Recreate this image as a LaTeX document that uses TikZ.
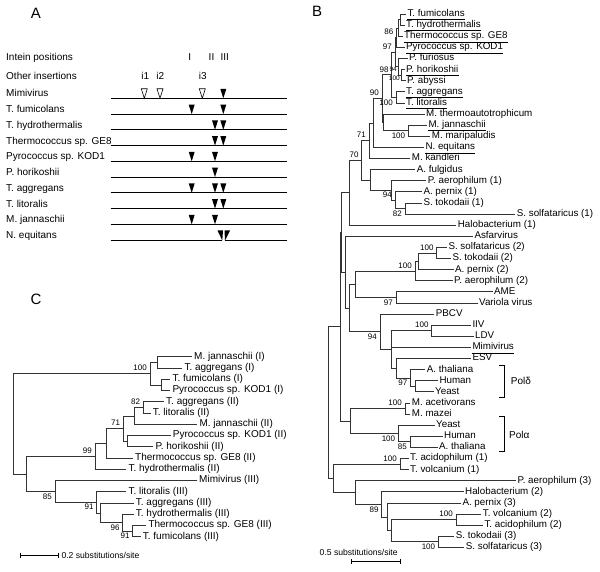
\documentclass[tikz,border=0pt]{standalone}
\usepackage{fontspec}
\setmainfont{Liberation Sans}
\usetikzlibrary{positioning}

\begin{document}
\begin{tikzpicture}[x=1pt, y=-1pt,
    lbl/.style={anchor=west, inner sep=1pt, font=\fontsize{10}{12}\selectfont,
                text height=7pt, text depth=2pt},
    leafB/.style={lbl, font=\fontsize{9.8}{12}\selectfont, inner sep=1.5pt},
    leafC/.style={lbl, inner sep=2pt},
    br/.style={draw=black!80, line width=0.6pt},
    row/.style={line width=1pt},
    ulstyle/.style={line width=0.75pt},
    bs/.style={inner sep=0pt, font=\fontsize{8}{9}\selectfont},
    bsa/.style={bs, anchor=south east, xshift=-3pt, yshift=2.5pt},
    bsb/.style={bs, anchor=north east, xshift=-3pt, yshift=-2pt},
    panel/.style={font=\fontsize{15}{18}\selectfont},
    scale text/.style={anchor=west, inner sep=0pt, font=\fontsize{8.6}{10}\selectfont}
  ]
  \useasboundingbox (0,0) rectangle (600,572);

  % ---------------- panel A
  \node[panel] (labA) at (36,13) {A};
  \node[lbl] (intein) at (5,58) {Intein positions};
  \node[lbl] (other) at (5,77) {Other insertions};
  \foreach \t/\xx in {I/189.7, II/211.5, III/224.7}
    \node[lbl, anchor=center] (pos\t) at (\xx,58) {\t};
  \foreach \t/\xx in {i1/145.2, i2/160.3, i3/202.7}
    \node[lbl, anchor=center] (ins\t) at (\xx,77) {\t};

  \foreach \name [count=\k from 0] in {Mimivirus, T. fumicolans, T. hydrothermalis,
      Thermococcus sp. GE8, Pyrococcus sp. KOD1, P. horikoshii, T. aggregans,
      T. litoralis, M. jannaschii, N. equitans} {
    \pgfmathsetmacro\yy{98.3+15.75*\k}
    \node[lbl] (sp\k) at (5,\yy-4) {\name};
    \coordinate (ls\k) at (110.7,\yy);
    \coordinate (le\k) at (287.3,\yy);
  }
  \foreach \k in {0,...,8}
    \draw[row] (ls\k) -- (le\k);
  % split intein of N. equitans
  \draw[row] (ls9) -- (222.3,240.05);
  \draw[row] (225,240.05) -- (le9);

  \foreach \k/\marks in {0/{223.3}, 1/{191.7,223.3}, 2/{215,223.3}, 3/{215,223.3},
      4/{191.7,215}, 5/{215}, 6/{191.7,215,223.3}, 7/{215,223.3}, 8/{191.7,215}}
    \foreach \m in \marks {
      \pgfmathsetmacro\yy{98.3+15.75*\k}
      \fill (\m,\yy) -- ++(-3,-9.5) -- ++(6,0) -- cycle;
    }
  \foreach \m in {144.3,160,202.3}
    \filldraw[fill=white, line width=0.6pt] (\m,98.3) -- ++(-3,-9.5) -- ++(6,0) -- cycle;
  \fill (217.5,230.5) -- (223,230.5) -- (222.3,240.5) -- cycle;
  \fill (224.5,230.5) -- (230,230.5) -- (225,240.5) -- cycle;

  % ---------------- panel C
  \node[panel] (labC) at (36,299) {C};
  \foreach \txt/\xs [count=\i] in {{M. jannaschii (I)}/194, {T. aggregans (I)}/184.3,
      {T. fumicolans (I)}/172.3, {Pyrococcus sp. KOD1 (I)}/172.3,
      {T. aggregans (II)}/166, {T. litoralis (II)}/152.7, {M. jannaschii (II)}/199.3,
      {Pyrococcus sp. KOD1 (II)}/172.7, {P. horikoshii (II)}/155.3,
      {Thermococcus sp. GE8 (II)}/135, {T. hydrothermalis (II)}/128.3,
      {Mimivirus (III)}/199, {T. litoralis (III)}/128.3, {T. aggregans (III)}/135.7,
      {T. hydrothermalis (III)}/135.7, {Thermococcus sp. GE8 (III)}/148.3,
      {T. fumicolans (III)}/142.7}
    \node[leafC] (c\i) at (\xs-2, {356.7+11.25*(\i-1)}) {\txt};

  \coordinate (k1) at (157.3,362.3);
  \coordinate (k2) at (161,384.8);
  \coordinate (kI) at (150,373.6);
  \coordinate (k82) at (143.3,407.3);
  \coordinate (k3) at (134,415.8);
  \coordinate (k4) at (127.7,441.1);
  \coordinate (k71) at (123.3,428.4);
  \coordinate (k5) at (106,443.2);
  \coordinate (k99) at (95,456.2);
  \coordinate (k91b) at (132.7,531.1);
  \coordinate (k96) at (122.7,522.6);
  \coordinate (k6) at (100.7,512.8);
  \coordinate (k91) at (96.7,502.2);
  \coordinate (k85) at (55,491.3);
  \coordinate (k7) at (26,473.8);
  \coordinate (kR) at (13.3,423.7);

  \foreach \p/\c in {k1/c1.west, k1/c2.west, k2/c3.west, k2/c4.west, kI/k1, kI/k2,
      k82/c5.west, k82/c6.west, k3/k82, k3/c7.west, k4/c8.west, k4/c9.west,
      k71/k3, k71/k4, k5/k71, k5/c10.west, k99/k5, k99/c11.west,
      k91b/c16.west, k91b/c17.west, k96/c15.west, k96/k91b, k6/c14.west, k6/k96,
      k91/c13.west, k91/k6, k85/c12.west, k85/k91, k7/k99, k7/k85, kR/kI, kR/k7}
    \draw[br] (\p) |- (\c);

  \foreach \n/\t in {kI/100, k82/82, k71/71, k99/99}
    \node[bsa] at (\n) {\t};
  \foreach \n/\t in {k85/85, k91/91, k96/96, k91b/91}
    \node[bsb] at (\n) {\t};

  \coordinate (scC1) at (20,555);
  \coordinate (scC2) at (58.3,555);
  \draw[line width=0.6pt] (scC1) -- (scC2);
  \draw[line width=0.6pt] ([yshift=2.5pt]scC1) -- ([yshift=-2.5pt]scC1);
  \draw[line width=0.6pt] ([yshift=2.5pt]scC2) -- ([yshift=-2.5pt]scC2);
  \node[scale text, right=3pt of scC2] (scCtext) {0.2 substitutions/site};

  % ---------------- panel B
  \node[panel] (labB) at (317,11) {B};
  \foreach \txt/\xs [count=\i] in {{T. fumicolans}/407.3,
      {T. hydrothermalis}/406, {Thermococcus sp. GE8}/404,
      {Pyrococcus sp. KOD1}/406, {P. furiosus}/409,
      {P. horikoshii}/406, {P. abyssi}/407, {T. aggregans}/406,
      {T. litoralis}/406, {M. thermoautotrophicum}/426,
      {M. jannaschii}/428.3, {M. maripaludis}/431.7,
      {N. equitans}/425.3, {M. kandleri}/411.7, {A. fulgidus}/416.7,
      {P. aerophilum (1)}/427.7, {A. pernix (1)}/423.3, {S. tokodaii (1)}/423.3,
      {S. solfataricus (1)}/516.7, {Halobacterium (1)}/457.7, {Asfarvirus}/474.3,
      {S. solfataricus (2)}/448.3, {S. tokodaii (2)}/452.3, {A. pernix (2)}/455,
      {P. aerophilum (2)}/454, {AME}/494, {Variola virus}/479, {PBCV}/435.7,
      {IIV}/472.3, {LDV}/475, {Mimivirus}/472.3, {ESV}/472.3,
      {A. thaliana}/426.7, {Human}/439.3, {Yeast}/435, {M. acetivorans}/411.7,
      {M. mazei}/411.7, {Yeast}/436, {Human}/444, {A. thaliana}/439,
      {T. acidophilum (1)}/410, {T. volcanium (1)}/410, {P. aerophilum (3)}/517.3,
      {Halobacterium (2)}/465, {A. pernix (3)}/462.3, {T. volcanium (2)}/482.7,
      {T. acidophilum (2)}/484.3, {S. tokodaii (3)}/455.7,
      {S. solfataricus (3)}/465.7}
    \node[leafB] (b\i) at (\xs-1.5, {14+11.11*(\i-1)}) {\txt};
  % intein-bearing sequences are underlined
  \foreach \i in {1,2,3,4,6,8,9,11,13,31}
    \draw[ulstyle] ([xshift=1.5pt,yshift=-3.2pt]b\i.base west)
      -- ([xshift=-1.5pt,yshift=-3.2pt]b\i.base east);

  \coordinate (t1) at (400,19.55);
  \coordinate (t2) at (398,27.9);
  \coordinate (t86) at (396.5,37.6);
  \coordinate (tph) at (401.5,75.15);
  \coordinate (t94) at (398.5,66.8);
  \coordinate (t97) at (395,52.2);
  \coordinate (tal) at (396,97.35);
  \coordinate (t98) at (391.7,74.8);
  \coordinate (tmj) at (408.3,130.65);
  \coordinate (tmt) at (383.3,122.3);
  \coordinate (t90) at (382,98.6);
  \coordinate (tne) at (373.3,122.9);
  \coordinate (t71) at (369,140.7);
  \coordinate (t82) at (405,208.5);
  \coordinate (t94c) at (395,200.1);
  \coordinate (tpa) at (391.7,190.4);
  \coordinate (taf) at (370,180);
  \coordinate (t70) at (361.7,160.3);
  \coordinate (tu) at (349.3,192.7);
  \coordinate (tss) at (436.7,252.85);
  \coordinate (tap) at (418.3,261.2);
  \coordinate (tcr) at (415,270.9);
  \coordinate (tav) at (396,297.35);
  \coordinate (td) at (355,284.1);
  \coordinate (tii) at (431.7,330.65);
  \coordinate (thy) at (415,386.2);
  \coordinate (tpd) at (410.5,377.85);
  \coordinate (tes) at (396.7,368.1);
  \coordinate (tg) at (391.7,349.4);
  \coordinate (tpb) at (380,331.7);
  \coordinate (th) at (349.3,307.9);
  \coordinate (ti) at (345,272.05);
  \coordinate (tv) at (341.7,232.4);
  \coordinate (tma) at (405,408.45);
  \coordinate (tha) at (410,441.75);
  \coordinate (tpa2) at (398.3,433.4);
  \coordinate (tk) at (350,420.9);
  \coordinate (tj) at (340,326.65);
  \coordinate (tta) at (400,463.95);
  \coordinate (tts) at (438.3,541.75);
  \coordinate (ttv) at (456,519.55);
  \coordinate (tz2) at (391.7,530.65);
  \coordinate (tz1) at (387.3,516.8);
  \coordinate (t89) at (381.7,504.3);
  \coordinate (tx) at (355,492.45);
  \coordinate (tw) at (333.3,478.2);
  \coordinate (tr) at (328.3,402.4);

  \foreach \p/\c in {t1/b1.west, t1/b2.west, t2/t1, t2/b3.west, t86/t2, t86/b4.west,
      tph/b6.west, tph/b7.west, t94/b5.west, t94/tph, t97/t86, t97/t94,
      tal/b8.west, tal/b9.west, t98/t97, t98/tal, tmj/b11.west, tmj/b12.west,
      tmt/b10.west, tmt/tmj, t90/t98, t90/tmt, tne/t90, tne/b13.west,
      t71/tne, t71/b14.west, t82/b18.west, t82/b19.west, t94c/b17.west, t94c/t82,
      tpa/b16.west, tpa/t94c, taf/b15.west, taf/tpa, t70/t71, t70/taf,
      tu/t70, tu/b20.west, tss/b22.west, tss/b23.west, tap/tss, tap/b24.west,
      tcr/tap, tcr/b25.west, tav/b26.west, tav/b27.west, td/tcr, td/tav,
      tii/b29.west, tii/b30.west, thy/b34.west, thy/b35.west, tpd/b33.west, tpd/thy,
      tes/b32.west, tes/tpd, tg/tii, tg/b31.west, tg/tes, tpb/b28.west, tpb/tg,
      th/td, th/tpb, ti/b21.west, ti/th, tv/tu, tv/ti,
      tma/b36.west, tma/b37.west, tha/b39.west, tha/b40.west, tpa2/b38.west, tpa2/tha,
      tk/tma, tk/tpa2, tj/tv, tj/tk, tta/b41.west, tta/b42.west,
      tts/b48.west, tts/b49.west, ttv/b46.west, ttv/b47.west, tz2/ttv, tz2/tts,
      tz1/b45.west, tz1/tz2, t89/b44.west, t89/tz1, tx/b43.west, tx/t89,
      tw/tta, tw/tx, tr/tj, tr/tw}
    \draw[br] (\p) |- (\c);

  \foreach \n/\t in {t86/86, t97/97, t98/98, t90/90, t71/71, t70/70, t94c/94,
      tss/100, tcr/100, tii/100, tma/100, tta/100, ttv/100}
    \node[bsa] at (\n) {\t};
  \foreach \n/\t in {tal/100, tmj/100, t82/82, tav/97, tpb/94, tpd/97, tpa2/100,
      tha/85, tts/100, t89/89}
    \node[bsb] at (\n) {\t};
  \node[bs, font=\fontsize{6.5}{7}\selectfont, anchor=east] at (397,69.3) {94};
  \node[bs, font=\fontsize{6.5}{7}\selectfont, anchor=east] at (400,78) {100};

  % Pol brackets
  \draw[line width=0.6pt] (499.3,365) -- (504,365) -- (504,397.3) -- (499.3,397.3);
  \node[lbl] (poldelta) at (509.7,382) {Polδ};
  \draw[line width=0.6pt] (499.3,416) -- (504,416) -- (504,451.7) -- (499.3,451.7);
  \node[lbl] (polalpha) at (508,436) {Polα};

  \coordinate (scB1) at (351.7,561.7);
  \coordinate (scB2) at (400.7,561.7);
  \draw[line width=0.6pt] (scB1) -- (scB2);
  \draw[line width=0.6pt] ([yshift=2.5pt]scB1) -- ([yshift=-2.5pt]scB1);
  \draw[line width=0.6pt] ([yshift=2.5pt]scB2) -- ([yshift=-2.5pt]scB2);
  \node[scale text, anchor=center] (scBtext) at (358.7,552.3) {0.5 substitutions/site};
\end{tikzpicture}
\end{document}
